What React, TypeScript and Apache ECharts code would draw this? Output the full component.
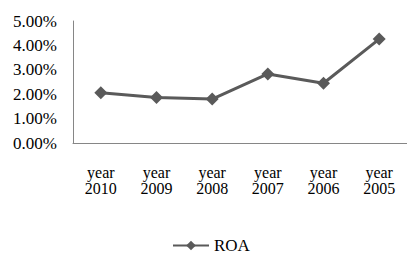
import React, { useEffect, useRef } from "react";
import * as echarts from "echarts";

const categories = ["year\n2010", "year\n2009", "year\n2008", "year\n2007", "year\n2006", "year\n2005"];
const roaValues = [0.0206, 0.0186, 0.018, 0.0283, 0.0245, 0.0426];
const seriesName = "ROA";

export default function App() {
  const ref = useRef<HTMLDivElement>(null);
  useEffect(() => {
    if (!ref.current) return;
    const chart = echarts.init(ref.current, null, { renderer: "svg" });
    const font = "'Liberation Serif', 'Times New Roman', serif";
    chart.setOption({
      animation: false,
      grid: { left: 73, right: 0, top: 21, bottom: 112, containLabel: false },
      legend: {
        data: [seriesName],
        left: 172,
        top: 237,
        padding: 0,
        itemWidth: 36,
        itemHeight: 12,
        itemGap: 0,
        textStyle: { fontFamily: font, fontSize: 17, lineHeight: 17, color: "#000" },
      },
      xAxis: {
        type: "category",
        data: categories,
        boundaryGap: true,
        axisLine: { lineStyle: { color: "#868686", width: 1 } },
        axisTick: { show: false },
        axisLabel: {
          margin: 21,
          fontFamily: font,
          fontSize: 16,
          lineHeight: 16,
          color: "#000",
          interval: 0,
        },
      },
      yAxis: {
        type: "value",
        min: 0,
        max: 0.05,
        interval: 0.01,
        splitLine: { show: false },
        axisLine: { show: true, lineStyle: { color: "#868686", width: 1 } },
        axisTick: { show: false },
        axisLabel: {
          margin: 16,
          fontFamily: font,
          fontSize: 17,
          color: "#000",
          formatter: (v: number) => (v * 100).toFixed(2) + "%",
        },
      },
      series: [
        {
          name: seriesName,
          type: "line",
          data: roaValues,
          symbol: "diamond",
          symbolSize: 13,
          lineStyle: { color: "#5a5a5a", width: 3 },
          itemStyle: { color: "#5a5a5a" },
        },
      ],
    });
    return () => chart.dispose();
  }, []);
  return <div ref={ref} style={{ width: 407, height: 255, position: "absolute", left: 0, top: 0 }} />;
}
